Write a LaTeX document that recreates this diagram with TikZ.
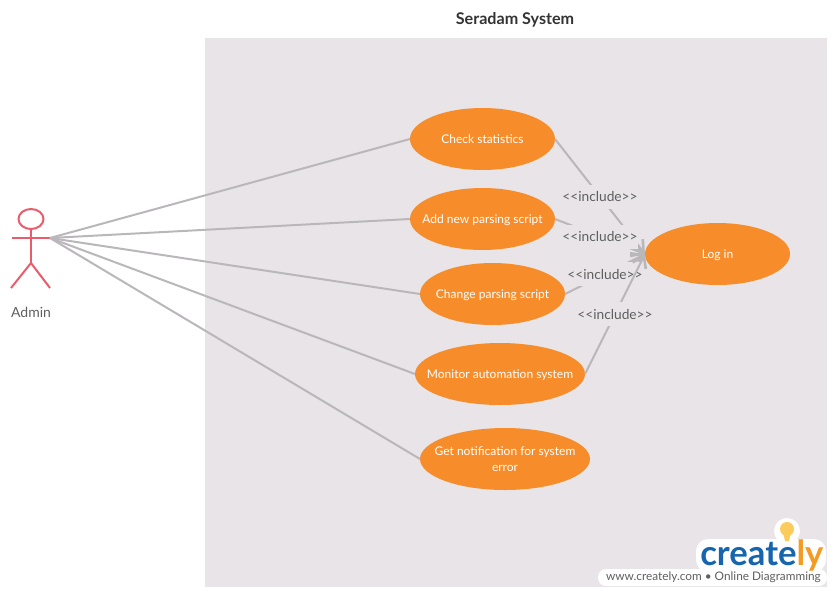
\documentclass[tikz,border=0pt]{standalone}
\usepackage{fontspec}
\setmainfont{Lato}
\usetikzlibrary{arrows.meta,shapes.geometric}
\definecolor{panelgray}{HTML}{E8E4E8}
\definecolor{caseorange}{HTML}{F78D2A}
\definecolor{actorpink}{HTML}{EA5B6C}
\definecolor{linegray}{HTML}{BAB7BA}
\definecolor{textgray}{HTML}{5F5F5F}
\definecolor{logoblue}{HTML}{1766AD}
\definecolor{logoorange}{HTML}{F59A23}
\definecolor{bulbyellow}{HTML}{FBCB5C}
\tikzset{
  usecase/.style={ellipse,fill=caseorange,text=white,font=\fontsize{9}{12}\selectfont,align=center,
    minimum width=108.75pt,minimum height=46.5pt,inner xsep=-30pt,inner ysep=0pt,outer sep=0pt,text depth=0pt},
  actorline/.style={draw=actorpink,line width=1.5pt},
  assoc/.style={draw=linegray,line width=1.5pt},
  incl/.style={assoc,-{Straight Barb[length=8pt,width=11pt,line width=2pt]}},
  incllabel/.style={fill=panelgray,text=textgray,font=\fontsize{10.3}{12}\selectfont,inner xsep=0.5pt,inner ysep=0pt,minimum height=18pt,midway}
}
\begin{document}
\begin{tikzpicture}[x=0.75pt,y=0.75pt,yscale=-1,xscale=1]
\useasboundingbox (0,0) rectangle (835,593);

%Shape: Rectangle
\fill[panelgray] (205,38) rectangle (827,587);

% Text Node
\node (title) at (515,20) {\fontsize{12.1}{14}\selectfont\bfseries\color{black!80}Seradam System};

%Shape: Actor
\coordinate (hand) at (50,238);
\coordinate (handl) at (12,238);
\coordinate (neck) at (31,229);
\coordinate (hip) at (31,263);
\coordinate (footl) at (11,288);
\coordinate (footr) at (50,288);
\draw[actorline] (31,219) ellipse (12.5 and 10);
\draw[actorline] (neck) -- (hip);
\draw[actorline] (handl) -- (hand);
\draw[actorline] (footl) -- (hip) -- (footr);
% Text Node
\node (admin) at (31,312) {\fontsize{10.5}{12}\selectfont\color{textgray}Admin};

%Shape: Ellipse
\node[usecase] (check) at (482.5,139) {Check statistics};
\node[usecase] (addnew) at (482.5,219) {Add new parsing script};
\node[usecase] (change) at (492.5,294) {Change parsing script};
\node[usecase,minimum width=127.5pt] (monitor) at (500,374) {Monitor automation system};
\node[usecase,minimum width=127.5pt] (notify) at (505,459) {Get notification for system\\error};
\node[usecase] (login) at (717.5,254) {Log in};

%Straight Lines
\draw[assoc] (hand) -- (check.west);
\draw[assoc] (hand) -- (addnew.west);
\draw[assoc] (hand) -- (change.west);
\draw[assoc] (hand) -- (monitor.west);
\draw[assoc] (hand) -- (notify.west);

%Arrows with labels
\draw[incl] (check.east) -- (login.west) node[incllabel] (lab1) {<{}<include>{}>};
\draw[incl] (addnew.east) -- (login.west) node[incllabel] (lab2) {<{}<include>{}>};
\draw[incl] (change.east) -- (login.west) node[incllabel] (lab3) {<{}<include>{}>};
\draw[incl] (monitor.east) -- (login.west) node[incllabel] (lab4) {<{}<include>{}>};

%Logo
\fill[white,rounded corners=9pt] (696,539) rectangle (826,572);
\fill[white] (787,531) circle (13);
\fill[white,rounded corners=6pt] (598,569) rectangle (827,586);
\fill[bulbyellow] (787,529) circle (7);
\fill[bulbyellow] (783,532) -- (791,532) -- (789,541) -- (785,541) -- cycle;
\node[anchor=base west,inner sep=0pt] (logo) at (700,565) {\fontsize{26}{28}\selectfont\bfseries\color{logoblue}create\color{logoorange}ly};
\node[anchor=east,inner sep=0pt] (site) at (821,577) {\fontsize{8.85}{10}\selectfont\color{textgray}www.creately.com • Online Diagramming};

\end{tikzpicture}
\end{document}
